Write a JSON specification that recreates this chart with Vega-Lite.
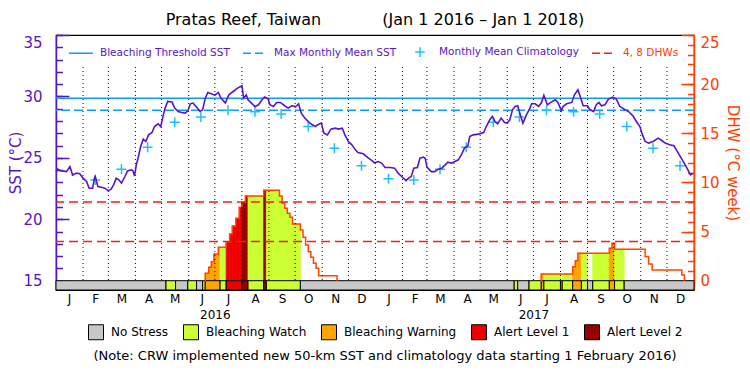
{
"$schema":"https://vega.github.io/schema/vega-lite/v6.json",
"width":638,"height":255,
"autosize":{"type":"none"},
"padding":{"left":56,"top":35,"right":56,"bottom":85},
"background":"white",
"config":{"view":{"stroke":"black","strokeWidth":1.2},"font":"DejaVu Sans","axis":{"grid":false,"labelFont":"DejaVu Sans","titleFont":"DejaVu Sans","titleFontWeight":"normal"},"legend":{"labelFont":"DejaVu Sans","titleFont":"DejaVu Sans"}},
"title":{"text":"Pratas Reef, Taiwan\u00a0\u00a0\u00a0\u00a0\u00a0\u00a0\u00a0\u00a0\u00a0\u00a0\u00a0\u00a0(Jan 1 2016 \u2013 Jan 1 2018)","fontSize":16,"fontWeight":"normal","color":"black","anchor":"middle","offset":6,"font":"DejaVu Sans"},
"datasets":{
"sst":[{"date":"2016-01-01","sst":23.88},{"date":"2016-01-03","sst":24.08},{"date":"2016-01-06","sst":23.96},{"date":"2016-01-13","sst":23.88},{"date":"2016-01-17","sst":24.29},{"date":"2016-01-20","sst":23.6},{"date":"2016-01-24","sst":23.75},{"date":"2016-01-28","sst":23.72},{"date":"2016-02-01","sst":23.35},{"date":"2016-02-05","sst":23.07},{"date":"2016-02-08","sst":22.53},{"date":"2016-02-12","sst":22.53},{"date":"2016-02-14","sst":23.35},{"date":"2016-02-15","sst":23.48},{"date":"2016-02-18","sst":22.66},{"date":"2016-02-22","sst":22.6},{"date":"2016-02-26","sst":22.53},{"date":"2016-03-01","sst":22.31},{"date":"2016-03-04","sst":22.45},{"date":"2016-03-07","sst":22.8},{"date":"2016-03-10","sst":23.35},{"date":"2016-03-13","sst":23.21},{"date":"2016-03-16","sst":22.94},{"date":"2016-03-20","sst":23.48},{"date":"2016-03-23","sst":23.94},{"date":"2016-03-27","sst":24.02},{"date":"2016-03-29","sst":23.96},{"date":"2016-03-31","sst":23.53},{"date":"2016-04-02","sst":24.43},{"date":"2016-04-04","sst":24.97},{"date":"2016-04-07","sst":25.92},{"date":"2016-04-10","sst":26.52},{"date":"2016-04-13","sst":26.33},{"date":"2016-04-16","sst":26.87},{"date":"2016-04-20","sst":27.06},{"date":"2016-04-23","sst":27.55},{"date":"2016-04-27","sst":27.77},{"date":"2016-04-30","sst":27.55},{"date":"2016-05-03","sst":28.5},{"date":"2016-05-05","sst":29.05},{"date":"2016-05-08","sst":29.59},{"date":"2016-05-13","sst":29.54},{"date":"2016-05-16","sst":29.05},{"date":"2016-05-20","sst":28.77},{"date":"2016-05-24","sst":28.69},{"date":"2016-05-28","sst":28.64},{"date":"2016-05-31","sst":28.83},{"date":"2016-06-03","sst":29.4},{"date":"2016-06-06","sst":29.46},{"date":"2016-06-10","sst":29.13},{"date":"2016-06-14","sst":28.77},{"date":"2016-06-17","sst":28.91},{"date":"2016-06-20","sst":29.86},{"date":"2016-06-23","sst":30.32},{"date":"2016-06-27","sst":30.22},{"date":"2016-07-01","sst":30.1},{"date":"2016-07-05","sst":30.32},{"date":"2016-07-08","sst":29.86},{"date":"2016-07-13","sst":29.46},{"date":"2016-07-17","sst":30.13},{"date":"2016-07-22","sst":30.4},{"date":"2016-07-27","sst":30.68},{"date":"2016-08-01","sst":30.87},{"date":"2016-08-03","sst":29.86},{"date":"2016-08-06","sst":30.13},{"date":"2016-08-08","sst":29.73},{"date":"2016-08-12","sst":29.46},{"date":"2016-08-16","sst":29.18},{"date":"2016-08-20","sst":29.32},{"date":"2016-08-24","sst":29.73},{"date":"2016-08-27","sst":29.95},{"date":"2016-08-31","sst":29.81},{"date":"2016-09-02","sst":29.32},{"date":"2016-09-06","sst":29.18},{"date":"2016-09-10","sst":29.51},{"date":"2016-09-14","sst":29.51},{"date":"2016-09-19","sst":29.24},{"date":"2016-09-23","sst":29.05},{"date":"2016-09-27","sst":29.24},{"date":"2016-10-02","sst":29.18},{"date":"2016-10-05","sst":29.4},{"date":"2016-10-08","sst":28.64},{"date":"2016-10-12","sst":28.24},{"date":"2016-10-18","sst":27.83},{"date":"2016-10-24","sst":27.55},{"date":"2016-10-27","sst":27.69},{"date":"2016-10-31","sst":27.83},{"date":"2016-11-03","sst":27.01},{"date":"2016-11-07","sst":26.87},{"date":"2016-11-11","sst":27.34},{"date":"2016-11-16","sst":27.42},{"date":"2016-11-20","sst":27.34},{"date":"2016-11-24","sst":27.42},{"date":"2016-11-27","sst":26.87},{"date":"2016-12-01","sst":26.33},{"date":"2016-12-05","sst":26.06},{"date":"2016-12-09","sst":25.65},{"date":"2016-12-12","sst":25.43},{"date":"2016-12-18","sst":25.33},{"date":"2016-12-24","sst":24.97},{"date":"2016-12-28","sst":24.78},{"date":"2016-12-31","sst":24.6},{"date":"2017-01-04","sst":24.7},{"date":"2017-01-08","sst":24.57},{"date":"2017-01-12","sst":24.21},{"date":"2017-01-18","sst":24.21},{"date":"2017-01-23","sst":24.16},{"date":"2017-01-27","sst":23.75},{"date":"2017-01-31","sst":23.48},{"date":"2017-02-05","sst":23.15},{"date":"2017-02-08","sst":23.35},{"date":"2017-02-11","sst":23.48},{"date":"2017-02-14","sst":24.16},{"date":"2017-02-18","sst":24.21},{"date":"2017-02-21","sst":24.97},{"date":"2017-02-25","sst":25.06},{"date":"2017-02-27","sst":24.97},{"date":"2017-03-01","sst":24.24},{"date":"2017-03-06","sst":23.88},{"date":"2017-03-10","sst":23.88},{"date":"2017-03-14","sst":24.08},{"date":"2017-03-18","sst":24.16},{"date":"2017-03-22","sst":24.43},{"date":"2017-03-25","sst":24.65},{"date":"2017-03-29","sst":24.57},{"date":"2017-04-02","sst":24.7},{"date":"2017-04-06","sst":24.84},{"date":"2017-04-10","sst":25.33},{"date":"2017-04-13","sst":25.79},{"date":"2017-04-17","sst":25.98},{"date":"2017-04-19","sst":26.74},{"date":"2017-04-23","sst":26.87},{"date":"2017-04-29","sst":26.93},{"date":"2017-05-05","sst":27.06},{"date":"2017-05-08","sst":27.55},{"date":"2017-05-12","sst":28.1},{"date":"2017-05-15","sst":28.37},{"date":"2017-05-18","sst":27.96},{"date":"2017-05-21","sst":27.77},{"date":"2017-05-25","sst":28.24},{"date":"2017-05-29","sst":27.88},{"date":"2017-06-01","sst":27.83},{"date":"2017-06-04","sst":28.1},{"date":"2017-06-07","sst":28.91},{"date":"2017-06-10","sst":29.18},{"date":"2017-06-13","sst":29.24},{"date":"2017-06-16","sst":28.5},{"date":"2017-06-19","sst":27.83},{"date":"2017-06-23","sst":28.5},{"date":"2017-06-27","sst":29.05},{"date":"2017-06-29","sst":29.4},{"date":"2017-07-03","sst":29.4},{"date":"2017-07-07","sst":29.18},{"date":"2017-07-10","sst":29.46},{"date":"2017-07-13","sst":30.08},{"date":"2017-07-17","sst":29.32},{"date":"2017-07-21","sst":29.51},{"date":"2017-07-26","sst":29.73},{"date":"2017-07-29","sst":29.51},{"date":"2017-08-02","sst":28.85},{"date":"2017-08-04","sst":29.18},{"date":"2017-08-08","sst":29.4},{"date":"2017-08-14","sst":29.51},{"date":"2017-08-17","sst":30.13},{"date":"2017-08-21","sst":30.54},{"date":"2017-08-23","sst":30.13},{"date":"2017-08-27","sst":29.24},{"date":"2017-09-01","sst":29.24},{"date":"2017-09-04","sst":28.91},{"date":"2017-09-08","sst":28.77},{"date":"2017-09-11","sst":29.32},{"date":"2017-09-14","sst":29.51},{"date":"2017-09-17","sst":29.24},{"date":"2017-09-21","sst":29.32},{"date":"2017-09-25","sst":29.78},{"date":"2017-09-30","sst":29.95},{"date":"2017-10-04","sst":29.78},{"date":"2017-10-08","sst":29.18},{"date":"2017-10-13","sst":28.97},{"date":"2017-10-18","sst":28.77},{"date":"2017-10-23","sst":28.42},{"date":"2017-10-27","sst":27.96},{"date":"2017-10-31","sst":27.55},{"date":"2017-11-03","sst":26.87},{"date":"2017-11-06","sst":26.33},{"date":"2017-11-10","sst":26.2},{"date":"2017-11-15","sst":26.33},{"date":"2017-11-21","sst":26.6},{"date":"2017-11-25","sst":26.41},{"date":"2017-11-29","sst":26.2},{"date":"2017-12-04","sst":26.06},{"date":"2017-12-09","sst":25.98},{"date":"2017-12-13","sst":25.51},{"date":"2017-12-18","sst":24.89},{"date":"2017-12-22","sst":24.43},{"date":"2017-12-25","sst":24.02},{"date":"2017-12-28","sst":23.61},{"date":"2017-12-31","sst":23.75}],
"clim":[{"date":"2016-02-15","clim":23.2,"series":"Monthly Mean Climatology"},{"date":"2016-03-16","clim":24.08,"series":"Monthly Mean Climatology"},{"date":"2016-04-15","clim":25.87,"series":"Monthly Mean Climatology"},{"date":"2016-05-16","clim":27.9,"series":"Monthly Mean Climatology"},{"date":"2016-06-15","clim":28.33,"series":"Monthly Mean Climatology"},{"date":"2016-07-16","clim":28.87,"series":"Monthly Mean Climatology"},{"date":"2016-08-16","clim":28.75,"series":"Monthly Mean Climatology"},{"date":"2016-09-15","clim":28.57,"series":"Monthly Mean Climatology"},{"date":"2016-10-16","clim":27.55,"series":"Monthly Mean Climatology"},{"date":"2016-11-15","clim":25.79,"series":"Monthly Mean Climatology"},{"date":"2016-12-16","clim":24.35,"series":"Monthly Mean Climatology"},{"date":"2017-01-16","clim":23.29,"series":"Monthly Mean Climatology"},{"date":"2017-02-14","clim":23.2,"series":"Monthly Mean Climatology"},{"date":"2017-03-16","clim":24.08,"series":"Monthly Mean Climatology"},{"date":"2017-04-15","clim":25.87,"series":"Monthly Mean Climatology"},{"date":"2017-05-16","clim":27.9,"series":"Monthly Mean Climatology"},{"date":"2017-06-15","clim":28.33,"series":"Monthly Mean Climatology"},{"date":"2017-07-16","clim":28.87,"series":"Monthly Mean Climatology"},{"date":"2017-08-16","clim":28.75,"series":"Monthly Mean Climatology"},{"date":"2017-09-15","clim":28.57,"series":"Monthly Mean Climatology"},{"date":"2017-10-16","clim":27.55,"series":"Monthly Mean Climatology"},{"date":"2017-11-15","clim":25.79,"series":"Monthly Mean Climatology"},{"date":"2017-12-16","clim":24.35,"series":"Monthly Mean Climatology"}],
"refs":[{"series":"Bleaching Threshold SST","sst":29.86},{"series":"Max Monthly Mean SST","sst":28.87}],
"dhwrefs":[{"series":"4, 8 DHWs","dhw":4},{"series":"4, 8 DHWs","dhw":8}],
"months":[{"date":"2016-02-01"},{"date":"2016-03-01"},{"date":"2016-04-01"},{"date":"2016-05-01"},{"date":"2016-06-01"},{"date":"2016-07-01"},{"date":"2016-08-01"},{"date":"2016-09-01"},{"date":"2016-10-01"},{"date":"2016-11-01"},{"date":"2016-12-01"},{"date":"2017-01-01"},{"date":"2017-02-01"},{"date":"2017-03-01"},{"date":"2017-04-01"},{"date":"2017-05-01"},{"date":"2017-06-01"},{"date":"2017-07-01"},{"date":"2017-08-01"},{"date":"2017-09-01"},{"date":"2017-10-01"},{"date":"2017-11-01"},{"date":"2017-12-01"}],
"dhwline":[{"season":"2016","date":"2016-06-19","dhw":0},{"season":"2016","date":"2016-06-20","dhw":0.75},{"season":"2016","date":"2016-06-24","dhw":1.36},{"season":"2016","date":"2016-06-27","dhw":1.94},{"season":"2016","date":"2016-06-30","dhw":2.72},{"season":"2016","date":"2016-07-05","dhw":3.4},{"season":"2016","date":"2016-07-14","dhw":3.97},{"season":"2016","date":"2016-07-18","dhw":4.76},{"season":"2016","date":"2016-07-21","dhw":5.57},{"season":"2016","date":"2016-07-25","dhw":6.35},{"season":"2016","date":"2016-07-29","dhw":7.47},{"season":"2016","date":"2016-08-01","dhw":7.98},{"season":"2016","date":"2016-08-05","dhw":8.62},{"season":"2016","date":"2016-08-26","dhw":9.2},{"season":"2016","date":"2016-09-13","dhw":8.62},{"season":"2016","date":"2016-09-16","dhw":7.88},{"season":"2016","date":"2016-09-19","dhw":7.37},{"season":"2016","date":"2016-09-22","dhw":6.86},{"season":"2016","date":"2016-09-25","dhw":6.46},{"season":"2016","date":"2016-09-28","dhw":5.77},{"season":"2016","date":"2016-10-07","dhw":5.16},{"season":"2016","date":"2016-10-10","dhw":4.42},{"season":"2016","date":"2016-10-13","dhw":3.64},{"season":"2016","date":"2016-10-16","dhw":2.95},{"season":"2016","date":"2016-10-19","dhw":2.38},{"season":"2016","date":"2016-10-22","dhw":1.77},{"season":"2016","date":"2016-10-25","dhw":1.26},{"season":"2016","date":"2016-10-28","dhw":0.5},{"season":"2016","date":"2016-11-18","dhw":0},{"season":"2017","date":"2017-07-09","dhw":0},{"season":"2017","date":"2017-07-10","dhw":0.68},{"season":"2017","date":"2017-08-15","dhw":1.43},{"season":"2017","date":"2017-08-18","dhw":2.04},{"season":"2017","date":"2017-08-21","dhw":2.79},{"season":"2017","date":"2017-09-26","dhw":3.3},{"season":"2017","date":"2017-09-29","dhw":3.81},{"season":"2017","date":"2017-10-02","dhw":3.2},{"season":"2017","date":"2017-11-06","dhw":2.45},{"season":"2017","date":"2017-11-10","dhw":1.7},{"season":"2017","date":"2017-11-14","dhw":1.09},{"season":"2017","date":"2017-12-18","dhw":0.58},{"season":"2017","date":"2017-12-21","dhw":0}],
"fills":[{"start":"2016-06-20","end":"2016-06-24","dhw":0.75,"status":"Bleaching Warning"},{"start":"2016-06-24","end":"2016-06-27","dhw":1.36,"status":"Bleaching Warning"},{"start":"2016-06-27","end":"2016-06-30","dhw":1.94,"status":"Bleaching Warning"},{"start":"2016-06-30","end":"2016-07-05","dhw":2.72,"status":"Bleaching Warning"},{"start":"2016-07-05","end":"2016-07-07","dhw":3.4,"status":"Bleaching Warning"},{"start":"2016-07-07","end":"2016-07-14","dhw":3.4,"status":"Bleaching Watch"},{"start":"2016-07-14","end":"2016-07-18","dhw":3.97,"status":"Alert Level 1"},{"start":"2016-07-18","end":"2016-07-21","dhw":4.76,"status":"Alert Level 1"},{"start":"2016-07-21","end":"2016-07-25","dhw":5.57,"status":"Alert Level 1"},{"start":"2016-07-25","end":"2016-07-29","dhw":6.35,"status":"Alert Level 1"},{"start":"2016-07-29","end":"2016-08-01","dhw":7.47,"status":"Alert Level 1"},{"start":"2016-08-01","end":"2016-08-05","dhw":7.98,"status":"Alert Level 2"},{"start":"2016-08-05","end":"2016-08-08","dhw":8.62,"status":"Alert Level 2"},{"start":"2016-08-08","end":"2016-08-26","dhw":8.62,"status":"Bleaching Watch"},{"start":"2016-08-26","end":"2016-08-29","dhw":9.2,"status":"Alert Level 2"},{"start":"2016-08-29","end":"2016-09-13","dhw":9.2,"status":"Bleaching Watch"},{"start":"2016-09-13","end":"2016-09-16","dhw":8.62,"status":"Bleaching Watch"},{"start":"2016-09-16","end":"2016-09-19","dhw":7.88,"status":"Bleaching Watch"},{"start":"2016-09-19","end":"2016-09-22","dhw":7.37,"status":"Bleaching Watch"},{"start":"2016-09-22","end":"2016-09-25","dhw":6.86,"status":"Bleaching Watch"},{"start":"2016-09-25","end":"2016-09-28","dhw":6.46,"status":"Bleaching Watch"},{"start":"2016-09-28","end":"2016-10-07","dhw":5.77,"status":"Bleaching Watch"},{"start":"2017-07-10","end":"2017-07-13","dhw":0.68,"status":"Bleaching Warning"},{"start":"2017-07-13","end":"2017-08-01","dhw":0.68,"status":"Bleaching Watch"},{"start":"2017-08-03","end":"2017-08-15","dhw":0.68,"status":"Bleaching Watch"},{"start":"2017-08-15","end":"2017-08-18","dhw":1.43,"status":"Bleaching Warning"},{"start":"2017-08-18","end":"2017-08-21","dhw":2.04,"status":"Bleaching Warning"},{"start":"2017-08-21","end":"2017-08-25","dhw":2.79,"status":"Bleaching Warning"},{"start":"2017-08-25","end":"2017-09-01","dhw":2.79,"status":"Bleaching Watch"},{"start":"2017-09-07","end":"2017-09-26","dhw":2.79,"status":"Bleaching Watch"},{"start":"2017-09-26","end":"2017-09-29","dhw":3.3,"status":"Bleaching Warning"},{"start":"2017-09-29","end":"2017-10-02","dhw":3.81,"status":"Bleaching Warning"},{"start":"2017-10-02","end":"2017-10-13","dhw":3.2,"status":"Bleaching Watch"}],
"status":[{"start":"2016-01-01","end":"2016-05-06","status":"No Stress"},{"start":"2016-05-06","end":"2016-05-17","status":"Bleaching Watch"},{"start":"2016-05-17","end":"2016-05-31","status":"No Stress"},{"start":"2016-05-31","end":"2016-06-10","status":"Bleaching Watch"},{"start":"2016-06-10","end":"2016-06-17","status":"No Stress"},{"start":"2016-06-17","end":"2016-06-20","status":"Bleaching Watch"},{"start":"2016-06-20","end":"2016-07-07","status":"Bleaching Warning"},{"start":"2016-07-07","end":"2016-07-14","status":"Bleaching Watch"},{"start":"2016-07-14","end":"2016-08-01","status":"Alert Level 1"},{"start":"2016-08-01","end":"2016-08-08","status":"Alert Level 2"},{"start":"2016-08-08","end":"2016-08-26","status":"Bleaching Watch"},{"start":"2016-08-26","end":"2016-08-29","status":"Alert Level 2"},{"start":"2016-08-29","end":"2016-10-07","status":"Bleaching Watch"},{"start":"2016-10-07","end":"2017-06-09","status":"No Stress"},{"start":"2017-06-09","end":"2017-06-13","status":"Bleaching Watch"},{"start":"2017-06-13","end":"2017-06-26","status":"No Stress"},{"start":"2017-06-26","end":"2017-07-10","status":"Bleaching Watch"},{"start":"2017-07-10","end":"2017-07-13","status":"Bleaching Warning"},{"start":"2017-07-13","end":"2017-08-01","status":"Bleaching Watch"},{"start":"2017-08-01","end":"2017-08-03","status":"No Stress"},{"start":"2017-08-03","end":"2017-08-15","status":"Bleaching Watch"},{"start":"2017-08-15","end":"2017-08-25","status":"Bleaching Warning"},{"start":"2017-08-25","end":"2017-09-01","status":"Bleaching Watch"},{"start":"2017-09-01","end":"2017-09-07","status":"No Stress"},{"start":"2017-09-07","end":"2017-09-26","status":"Bleaching Watch"},{"start":"2017-09-26","end":"2017-10-02","status":"Bleaching Warning"},{"start":"2017-10-02","end":"2017-10-13","status":"Bleaching Watch"},{"start":"2017-10-13","end":"2018-01-01","status":"No Stress"}]
},
"layer":[
{
"layer":[
{"data":{"name":"fills"},"mark":{"type":"rect","strokeWidth":0.8},
"encoding":{
"x":{"field":"start","type":"temporal","scale":{"type":"utc","domain":[{"year":2016,"month":1,"date":1,"utc":true},{"year":2018,"month":1,"date":1,"utc":true}]},
"axis":{"orient":"bottom","values":[{"year":2016,"month":1,"date":16,"utc":true},{"year":2016,"month":2,"date":15,"utc":true},{"year":2016,"month":3,"date":16,"utc":true},{"year":2016,"month":4,"date":16,"utc":true},{"year":2016,"month":5,"date":16,"utc":true},{"year":2016,"month":6,"date":16,"utc":true},{"year":2016,"month":7,"date":16,"utc":true},{"year":2016,"month":8,"date":16,"utc":true},{"year":2016,"month":9,"date":16,"utc":true},{"year":2016,"month":10,"date":16,"utc":true},{"year":2016,"month":11,"date":16,"utc":true},{"year":2016,"month":12,"date":16,"utc":true},{"year":2017,"month":1,"date":16,"utc":true},{"year":2017,"month":2,"date":15,"utc":true},{"year":2017,"month":3,"date":16,"utc":true},{"year":2017,"month":4,"date":16,"utc":true},{"year":2017,"month":5,"date":16,"utc":true},{"year":2017,"month":6,"date":16,"utc":true},{"year":2017,"month":7,"date":16,"utc":true},{"year":2017,"month":8,"date":16,"utc":true},{"year":2017,"month":9,"date":16,"utc":true},{"year":2017,"month":10,"date":16,"utc":true},{"year":2017,"month":11,"date":16,"utc":true},{"year":2017,"month":12,"date":16,"utc":true}],
"labelExpr":"substring(utcFormat(datum.value, '%b'), 0, 1)","ticks":false,"domain":false,"labelFontSize":12,"labelColor":"black","labelPadding":3,"labelFlush":false,"labelOverlap":false,"title":null,"grid":false}},
"x2":{"field":"end"},
"y":{"field":"dhw","type":"quantitative","scale":{"domain":[-0.947,25],"nice":false,"zero":false},
"axis":{"orient":"right","values":[0,5,10,15,20,25],"tickSize":-13,"tickWidth":1.5,"tickColor":"#ff4000","domainColor":"#ff4000","domainWidth":1.5,"labelColor":"#ff4000","labelFontSize":15,"labelPadding":19,"labelFlush":true,"title":"DHW (\u00b0C week)","titleColor":"#ff4000","titleFontSize":15,"titlePadding":5,"grid":false}},
"y2":{"datum":0},
"fill":{"field":"status","type":"nominal","scale":{"domain":["No Stress","Bleaching Watch","Bleaching Warning","Alert Level 1","Alert Level 2"],"range":["#c8c8c8","#ccff33","#ffa500","#ee0000","#990000"]},
"legend":{"orient":"none","legendX":32,"legendY":289,"direction":"horizontal","title":"(Note: CRW implemented new 50-km SST and climatology data starting 1 February 2016)","titleOrient":"bottom","titleAnchor":"middle","titleFontSize":13,"titleFontWeight":"normal","titleColor":"black","titlePadding":8,"titleLimit":800,"symbolType":"square","symbolSize":225,"symbolStrokeColor":"black","symbolStrokeWidth":1,"symbolOpacity":1,"labelFontSize":12,"labelColor":"black","labelOffset":7,"columnPadding":12,"labelLimit":300,"padding":0,
"encode":{"symbols":{"update":{"stroke":{"value":"black"},"strokeWidth":{"value":1},"opacity":{"value":1}}}}}},
"stroke":{"field":"status","type":"nominal","scale":{"domain":["No Stress","Bleaching Watch","Bleaching Warning","Alert Level 1","Alert Level 2"],"range":["#c8c8c8","#ccff33","#ffa500","#ee0000","#990000"]},"legend":null}
}},
{"data":{"name":"status"},"mark":{"type":"rect","stroke":"black","strokeWidth":1},
"encoding":{
"x":{"field":"start","type":"temporal","scale":{"type":"utc"},"axis":null},
"x2":{"field":"end"},
"y":{"datum":0,"scale":{"domain":[-0.947,25],"nice":false,"zero":false},"axis":null},
"y2":{"datum":-0.947},
"fill":{"field":"status","type":"nominal","scale":{"domain":["No Stress","Bleaching Watch","Bleaching Warning","Alert Level 1","Alert Level 2"],"range":["#c8c8c8","#ccff33","#ffa500","#ee0000","#990000"]}}
}},
{"data":{"name":"dhwline"},"mark":{"type":"line","interpolate":"step-after","color":"#ff4500","strokeWidth":1.5},
"encoding":{
"x":{"field":"date","type":"temporal","scale":{"type":"utc"},"axis":null},
"y":{"field":"dhw","type":"quantitative","scale":{"domain":[-0.947,25],"nice":false,"zero":false},
"axis":{"orient":"right","values":[0,1,2,3,4,5,6,7,8,9,10,11,12,13,14,15,16,17,18,19,20,21,22,23,24,25],"tickSize":-6.5,"tickWidth":1.5,"tickColor":"#ff4000","labels":false,"domain":false,"title":null,"grid":false}},
"detail":{"field":"season","type":"nominal"}
}},
{"data":{"name":"dhwrefs"},"mark":{"type":"rule","strokeDash":[9,5],"strokeWidth":1.5,"color":"#f01e1e"},
"encoding":{
"y":{"field":"dhw","type":"quantitative","scale":{"domain":[-0.947,25],"nice":false,"zero":false},"axis":null}
}}
],
"resolve":{"axis":{"y":"independent","x":"independent"}}
},
{
"layer":[
{"data":{"name":"months"},"mark":{"type":"rule","strokeDash":[1,3],"color":"black","strokeWidth":1},
"encoding":{
"x":{"field":"date","type":"temporal","scale":{"type":"utc"},"axis":null},
"y":{"datum":32.4,"scale":{"domain":[14.242,35],"nice":false,"zero":false},"axis":null},
"y2":{"datum":15}
}},
{"data":{"name":"refs"},"mark":{"type":"rule","strokeWidth":1.5},
"encoding":{
"y":{"field":"sst","type":"quantitative","scale":{"domain":[14.242,35],"nice":false,"zero":false},
"axis":{"orient":"left","values":[15,16,17,18,19,20,21,22,23,24,25,26,27,28,29,30,31,32,33,34,35],"tickSize":-6.5,"tickWidth":1.5,"tickColor":"#5a14c8","labels":false,"domain":false,"title":null,"grid":false}},
"stroke":{"field":"series","type":"nominal","scale":{"domain":["Bleaching Threshold SST","Max Monthly Mean SST","Monthly Mean Climatology","4, 8 DHWs"],"range":["#0a9bff","#0a9bff","#1ebeff","#f01e1e"]},
"legend":{"orient":"none","legendX":12,"legendY":4,"direction":"horizontal","title":null,"symbolType":"stroke","symbolSize":576,"symbolStrokeWidth":1.5,"labelFontSize":10.5,"labelColor":"#5a14c8","labelOffset":6,"columnPadding":10,"padding":0,"labelLimit":300,
"encode":{"symbols":{"update":{"shape":{"signal":"datum.label === 'Monthly Mean Climatology' ? 'M-0.4,0H0.4M0,-0.4V0.4' : 'stroke'"},"strokeDash":{"signal":"(datum.label === 'Max Monthly Mean SST' || datum.label === '4, 8 DHWs') ? [8,4] : [1,0]"},"strokeWidth":{"value":1.5}}},"labels":{"update":{"fill":{"signal":"datum.label === '4, 8 DHWs' ? '#ff3c00' : '#5a14c8'"}}}}}},
"strokeDash":{"field":"series","type":"nominal","scale":{"domain":["Bleaching Threshold SST","Max Monthly Mean SST"],"range":[[1,0],[9,4]]},"legend":null}
}},
{"data":{"name":"clim"},"mark":{"type":"point","shape":"M-1,0H1M0,-1V1","size":100,"filled":false,"strokeWidth":1.5,"opacity":1},
"encoding":{
"x":{"field":"date","type":"temporal","scale":{"type":"utc"},"axis":null},
"y":{"field":"clim","type":"quantitative","scale":{"domain":[14.242,35],"nice":false,"zero":false},"axis":null},
"stroke":{"field":"series","type":"nominal","scale":{"domain":["Bleaching Threshold SST","Max Monthly Mean SST","Monthly Mean Climatology","4, 8 DHWs"],"range":["#0a9bff","#0a9bff","#1ebeff","#f01e1e"]}}
}},
{"data":{"name":"sst"},"mark":{"type":"line","color":"#5a14c8","strokeWidth":1.6},
"encoding":{
"x":{"field":"date","type":"temporal","scale":{"type":"utc"},
"axis":{"orient":"bottom","values":[{"year":2016,"month":7,"date":1,"utc":true},{"year":2017,"month":7,"date":1,"utc":true}],"labelExpr":"utcFormat(datum.value, '%Y')","ticks":false,"domain":false,"labelFontSize":12,"labelColor":"black","labelPadding":19,"labelFlush":false,"title":null,"grid":false}},
"y":{"field":"sst","type":"quantitative","scale":{"domain":[14.242,35],"nice":false,"zero":false},
"axis":{"orient":"left","values":[15,20,25,30,35],"tickSize":-13,"tickWidth":1.5,"tickColor":"#5a14c8","domainColor":"#5a14c8","domainWidth":1.5,"labelColor":"#5a14c8","labelFontSize":15,"labelPadding":27,"labelFlush":true,"title":"SST (\u00b0C)","titleColor":"#5a14c8","titleFontSize":15,"titlePadding":-1,"grid":false}}
}}
],
"resolve":{"axis":{"y":"independent","x":"independent"}}
}
],
"resolve":{"scale":{"y":"independent","stroke":"independent"},"axis":{"x":"independent"}}
}
